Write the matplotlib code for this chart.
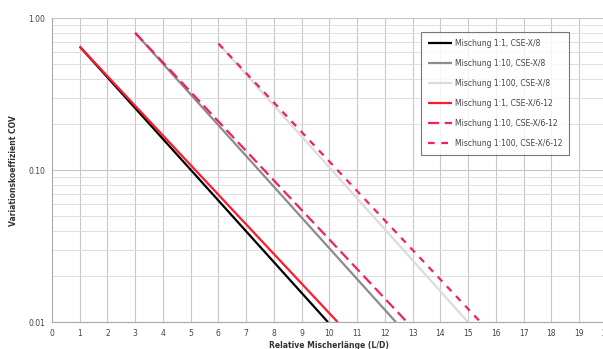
import matplotlib.pyplot as plt
from matplotlib.ticker import FixedLocator, NullFormatter

# start / end points of each line (relative mixer length, COV)
labels = ["Mischung 1:1, CSE-X/8", "Mischung 1:10, CSE-X/8", "Mischung 1:100, CSE-X/8",
          "Mischung 1:1, CSE-X/6-12", "Mischung 1:10, CSE-X/6-12", "Mischung 1:100, CSE-X/6-12"]
x_start = [1, 3, 6, 1, 3, 6]
x_end = [9.95, 12.4, 15.0, 10.3, 12.8, 15.45]
cov_start = [0.65, 0.80, 0.68, 0.65, 0.80, 0.68]
cov_end = [0.01, 0.01, 0.01, 0.01, 0.01, 0.01]

colors = ["black", "#8c8c8c", "#dcdcdc", "#ff1a2e", "#f5205a", "#f5205a"]
styles = ["-", "-", "-", "-", (0, (5, 2.5)), (0, (3, 3))]

fig = plt.figure(figsize=(6.03, 3.49), dpi=100)
ax = fig.add_axes([0.0862, 0.077, 0.92, 0.871])

for i in range(len(labels)):
    ax.plot([x_start[i], x_end[i]], [cov_start[i], cov_end[i]], color=colors[i],
            linestyle=styles[i], lw=1.6, label=labels[i], solid_capstyle='butt')

ax.set_yscale('log')
ax.set_xlim(0, 20)
ax.set_ylim(0.01, 1.0)
ax.xaxis.set_major_locator(FixedLocator(range(0, 21)))
ax.yaxis.set_major_locator(FixedLocator([0.01, 0.1, 1.0]))
ax.set_yticklabels(["0.01", "0.10", "1.00"])
ax.yaxis.set_minor_formatter(NullFormatter())
ax.grid(True, which='major', color='#c8c8c8', lw=0.8)
ax.grid(True, which='minor', axis='y', color='#dedede', lw=0.7)
ax.set_axisbelow(True)
ax.tick_params(which='both', length=0, labelsize=5.5, colors='#444444', pad=5)
for s in ['top', 'right']:
    ax.spines[s].set_visible(False)
for s in ['left', 'bottom']:
    ax.spines[s].set_color('#aaaaaa')

ax.set_xlabel("Relative Mischerlänge (L/D)", fontsize=5.5, fontweight='bold', color='#333333', labelpad=2)
ax.set_ylabel("Variationskoeffizient COV", fontsize=5.5, fontweight='bold', color='#333333', labelpad=7)

leg = ax.legend(loc='upper left', bbox_to_anchor=(0.665, 0.955), fontsize=5.5, frameon=True,
                fancybox=False, edgecolor='#555555', handlelength=3.2, handletextpad=0.3,
                labelspacing=1.45, borderpad=0.9, borderaxespad=0)
leg.get_frame().set_linewidth(0.8)
for t in leg.get_texts():
    t.set_color('#444444')

fig.savefig("out.png", dpi=100)
